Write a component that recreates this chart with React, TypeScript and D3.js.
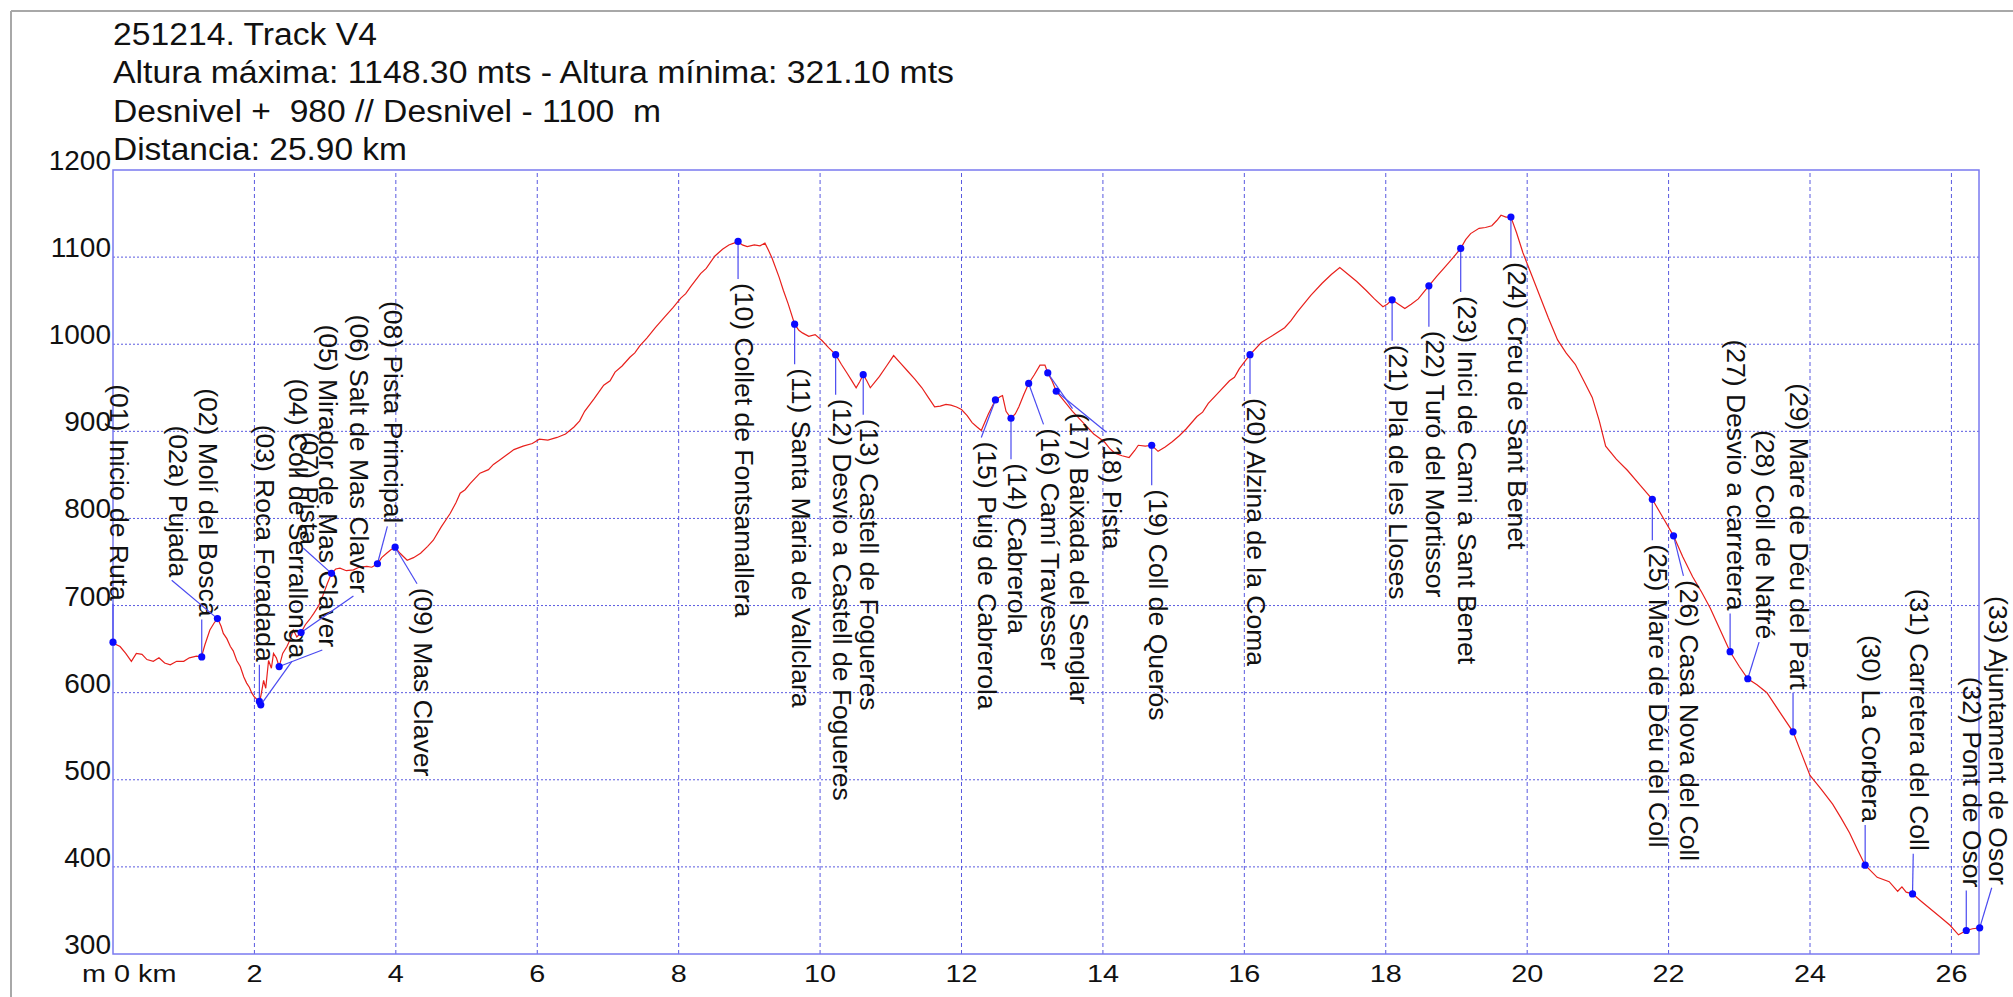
import React from "react"
import * as d3 from "d3"

const WIDTH = 2013
const HEIGHT = 997

const titleLines = [
  "251214. Track V4",
  "Altura máxima: 1148.30 mts - Altura mínima: 321.10 mts",
  "Desnivel +  980 // Desnivel - 1100  m",
  "Distancia: 25.90 km",
]
const titleWidths = [264, 841, 548, 294]

const yTicks = [300, 400, 500, 600, 700, 800, 900, 1000, 1100, 1200]
const xTicks = [2, 4, 6, 8, 10, 12, 14, 16, 18, 20, 22, 24, 26]

// elevation profile (km, m)
const profileKm = [
  0.0, 0.05, 0.1, 0.18, 0.26, 0.33, 0.41, 0.48, 0.57, 0.65, 0.73, 0.81, 0.9, 1.0, 1.08, 1.18, 1.25,
  1.3, 1.37, 1.43, 1.48, 1.53, 1.56, 1.61, 1.66, 1.7, 1.75, 1.8, 1.85, 1.89, 1.93, 1.96, 2.0, 2.04,
  2.07, 2.1, 2.13, 2.16, 2.2, 2.24, 2.27, 2.31, 2.35, 2.4, 2.46, 2.5, 2.55, 2.6, 2.66, 2.72, 2.78,
  2.84, 2.91, 2.98, 3.03, 3.09, 3.15, 3.21, 3.3, 3.4, 3.48, 3.59, 3.66, 3.74, 3.8, 3.87, 3.93, 3.99,
  4.06, 4.16, 4.25, 4.35, 4.45, 4.53, 4.64, 4.77, 4.85, 4.91, 4.98, 5.05, 5.12, 5.19, 5.31, 5.38,
  5.45, 5.57, 5.67, 5.8, 5.93, 6.03, 6.15, 6.28, 6.4, 6.52, 6.6, 6.67, 6.8, 6.94, 7.03, 7.1, 7.2,
  7.31, 7.38, 7.45, 7.55, 7.67, 7.8, 7.92, 8.03, 8.1, 8.17, 8.31, 8.39, 8.51, 8.62, 8.71, 8.78,
  8.84, 8.9, 8.97, 9.07, 9.15, 9.22, 9.27, 9.32, 9.42, 9.48, 9.55, 9.64, 9.7, 9.75, 9.84, 9.93,
  10.03, 10.12, 10.22, 10.3, 10.38, 10.45, 10.51, 10.56, 10.61, 10.66, 10.71, 10.78, 10.84, 10.94,
  11.04, 11.14, 11.24, 11.34, 11.44, 11.53, 11.62, 11.7, 11.78, 11.85, 11.93, 12.0, 12.08, 12.15,
  12.22, 12.28, 12.38, 12.48, 12.55, 12.58, 12.63, 12.7, 12.76, 12.81, 12.88, 12.95, 13.03, 13.11,
  13.18, 13.22, 13.28, 13.34, 13.45, 13.57, 13.72, 13.87, 14.02, 14.1, 14.17, 14.27, 14.37, 14.45,
  14.5, 14.6, 14.69, 14.78, 14.88, 14.98, 15.08, 15.18, 15.33, 15.41, 15.49, 15.64, 15.79, 15.86,
  15.93, 16.08, 16.24, 16.4, 16.57, 16.66, 16.75, 16.94, 17.1, 17.23, 17.35, 17.47, 17.59, 17.72,
  17.84, 17.96, 18.02, 18.09, 18.18, 18.27, 18.36, 18.46, 18.54, 18.61, 18.72, 18.83, 18.95, 19.06,
  19.13, 19.2, 19.32, 19.41, 19.5, 19.57, 19.63, 19.7, 19.77, 19.85, 19.94, 20.06, 20.18, 20.3,
  20.43, 20.55, 20.68, 20.8, 20.92, 21.02, 21.11, 21.26, 21.42, 21.6, 21.77, 21.92, 22.07, 22.2,
  22.34, 22.47, 22.59, 22.73, 22.87, 23.0, 23.12, 23.25, 23.39, 23.57, 23.76, 23.88, 24.0, 24.08,
  24.16, 24.32, 24.44, 24.56, 24.67, 24.78, 24.95, 25.12, 25.24, 25.3, 25.36, 25.45, 25.58, 25.73,
  25.85, 25.98, 26.1, 26.21, 26.3, 26.4,
]
const profileM = [
  658, 655, 653, 645, 636, 645, 644, 638, 636, 640, 634, 632, 636, 636, 640, 642, 641,
  655, 672, 680, 685, 676, 668, 662, 653, 648, 637, 630, 618, 611, 606, 600, 595, 592,
  588, 600, 614, 605, 637, 628, 645, 640, 630, 645, 653, 660, 672, 664, 669, 678, 684,
  691, 700, 714, 725, 737, 742, 743, 740, 741, 744, 745, 744, 748, 755, 760, 764, 767,
  760, 752, 755, 760, 768, 775, 790, 806, 818, 829, 833, 840, 846, 852, 856, 862,
  866, 873, 879, 883, 886, 891, 890, 893, 897, 905, 912, 923, 937, 953, 958, 968, 975,
  985, 990, 998, 1007, 1019, 1031, 1042, 1053, 1058, 1066, 1081, 1087, 1101, 1109, 1114, 1116,
  1118, 1114, 1112, 1114, 1113, 1116, 1108, 1099, 1077, 1062, 1046, 1023, 1016, 1013, 1009, 1011,
  1004, 996, 988, 977, 967, 958, 950, 957, 965, 958, 950, 957, 963, 975,
  987, 978, 969, 960, 950, 939, 928, 929, 931, 930, 928, 925, 918, 910,
  905, 901, 920, 936, 940, 941, 923, 915, 920, 928, 942, 955, 965, 976,
  976, 967, 958, 946, 935, 923, 910, 897, 888, 880, 875, 872, 870, 878,
  884, 883, 884, 877, 882, 888, 895, 903, 917, 922, 932, 945, 958, 962,
  972, 988, 1002, 1010, 1019, 1027, 1037, 1056, 1070, 1080, 1088, 1080, 1072, 1062,
  1052, 1043, 1046, 1051, 1046, 1041, 1046, 1052, 1060, 1067, 1078, 1088, 1099, 1110,
  1120, 1127, 1133, 1134, 1136, 1142, 1148, 1146, 1146, 1128, 1105, 1080, 1055, 1030,
  1005, 990, 977, 958, 939, 912, 883, 868, 855, 838, 822, 801, 780, 756,
  733, 715, 697, 672, 647, 630, 616, 609, 600, 578, 555, 530, 505, 497,
  489, 472, 456, 439, 420, 402, 388, 383, 372, 377, 371, 369, 360, 350,
  342, 333, 322, 327, 329, 330,
]

// waypoints: name, position on the track, and where its label is attached
const wpName = [
  "(01) Inicio de Ruta", "(02) Molí del Boscà", "(02a) Pujada", "(03) Roca Foradada",
  "(04) Coll de Serrallonga", "(05) Mirador de Mas Claver", "(06) Salt de Mas Claver",
  "(07) Pista", "(08) Pista Principal", "(09) Mas Claver", "(10) Collet de Fontsamallera",
  "(11) Santa Maria de Vallclara", "(12) Desvio a Castell de Fogueres", "(13) Castell de Fogueres",
  "(14) Cabrerola", "(15) Puig de Cabrerola", "(16) Camí Travesser", "(17) Baixada del Senglar",
  "(18) Pista", "(19) Coll de Querós", "(20) Alzina de la Coma", "(21) Pla de les Lloses",
  "(22) Turó del Mortissor", "(23) Inici de Cami a Sant Benet", "(24) Creu de Sant Benet",
  "(25) Mare de Déu del Coll", "(26) Casa Nova del Coll", "(27) Desvio a carretera",
  "(28) Coll de Nafré", "(29) Mare de Déu del Part", "(30) La Corbera", "(31) Carretera del Coll",
  "(32) Pont de Osor", "(33) Ajuntament de Osor",
]
const wpKm = [
  0, 1.255, 1.477, 2.07, 2.09, 2.35, 2.66, 3.09, 3.74, 3.99, 8.84, 9.64, 10.22, 10.61, 12.7, 12.48,
  12.95, 13.22, 13.34, 14.69, 16.08, 18.09, 18.61, 19.06, 19.77, 21.77, 22.07, 22.87, 23.12, 23.76,
  24.78, 25.45, 26.21, 26.4,
]
const wpM = [
  658, 641, 685, 590, 586, 630, 669, 737, 748, 767, 1118, 1023, 988, 965, 915, 936, 955, 967, 946,
  884, 988, 1051, 1067, 1110, 1146, 822, 780, 647, 616, 555, 402, 369, 327, 330,
]
const labelKm = [
  0, 1.255, 0.83, 2.07, 2.53, 2.96, 3.4, 2.69, 3.88, 4.3, 8.84, 9.64, 10.22, 10.61, 12.7, 12.28,
  13.16, 13.57, 14.05, 14.69, 16.08, 18.09, 18.61, 19.06, 19.77, 21.77, 22.21, 22.87, 23.28, 23.76,
  24.78, 25.46, 26.21, 26.57,
]
const labelM = [
  702, 684, 729, 632, 636, 649, 711, 766, 791, 725, 1075, 977, 942, 919, 868, 893, 908, 926, 899,
  838, 943, 1004, 1020, 1060, 1099, 775, 734, 691, 658, 600, 448, 415, 373, 376,
]
const labelAbove = [
  true, true, true, true, true, true, true, true, true, false, false, false, false, false, false,
  false, false, false, false, false, false, false, false, false, false, false, false, true, true,
  true, true, true, true, true,
]

const FONT = "'Liberation Sans', Arial, Helvetica, sans-serif"
const GRID = "#5a5ae0"
const FRAME = "#7a7af0"

export default function App() {
  const x = d3.scaleLinear().domain([0, 26.39]).range([113, 1979])
  const y = d3.scaleLinear().domain([300, 1200]).range([954, 170])

  const profile = profileKm.map((k, i) => [k, profileM[i]] as [number, number])
  const line = d3
    .line<[number, number]>()
    .x((d) => x(d[0]))
    .y((d) => y(d[1]))

  const [x0, x1] = x.range()
  const [y0, y1] = y.range()

  return (
    <svg
      width={WIDTH}
      height={HEIGHT}
      style={{ position: "absolute", left: 0, top: 0, background: "#fff" }}
      fontFamily={FONT}
    >
      <rect x={0} y={0} width={WIDTH} height={HEIGHT} fill="#fff" />
      {/* outer window frame */}
      <line x1={11} y1={11} x2={WIDTH} y2={11} stroke="#a8a8a8" strokeWidth={2} />
      <line x1={11} y1={11} x2={11} y2={HEIGHT} stroke="#a8a8a8" strokeWidth={2} />

      {titleLines.map((t, i) => (
        <text
          key={t}
          x={113}
          y={45 + i * 38.4}
          fontSize={31}
          fill="#111"
          textLength={titleWidths[i]}
          lengthAdjust="spacingAndGlyphs"
          style={{ whiteSpace: "pre" }}
        >
          {t}
        </text>
      ))}

      {/* grid */}
      {yTicks
        .filter((v) => v > 300 && v < 1200)
        .map((v) => (
          <line
            key={"gy" + v}
            x1={x0}
            x2={x1}
            y1={y(v)}
            y2={y(v)}
            stroke={GRID}
            strokeWidth={1}
            strokeDasharray="2,2"
          />
        ))}
      {xTicks
        .filter((v) => x(v) < x1 - 2)
        .map((v) => (
          <line
            key={"gx" + v}
            x1={x(v)}
            x2={x(v)}
            y1={y0}
            y2={y1}
            stroke={GRID}
            strokeWidth={1}
            strokeDasharray="4,3"
          />
        ))}

      <rect
        x={x0}
        y={y1}
        width={x1 - x0}
        height={y0 - y1}
        fill="none"
        stroke={FRAME}
        strokeWidth={1.5}
      />

      {/* tick labels */}
      {yTicks.map((v) => (
        <text key={"ty" + v} x={111} y={y(v)} fontSize={28} textAnchor="end" fill="#111">
          {v}
        </text>
      ))}
      <text transform={`translate(82,982) scale(1.2,1)`} fontSize={24} fill="#111">
        m 0 km
      </text>
      {xTicks.map((v) => (
        <text
          key={"tx" + v}
          transform={`translate(${x(v)},982) scale(1.2,1)`}
          fontSize={24}
          textAnchor="middle"
          fill="#111"
        >
          {v}
        </text>
      ))}

      {/* profile */}
      <path d={line(profile) ?? ""} fill="none" stroke="#e8201c" strokeWidth={1.2} />

      {/* waypoints */}
      {wpName.map((name, i) => {
        const px = x(wpKm[i])
        const py = y(wpM[i])
        const ax = x(labelKm[i])
        const ay = y(labelM[i])
        const above = labelAbove[i]
        return (
          <g key={name}>
            <line x1={px} y1={py} x2={ax} y2={ay} stroke="#4a4af0" strokeWidth={1.2} />
            <text
              transform={`translate(${ax - 3},${above ? ay - 3 : ay + 4}) rotate(90)`}
              fontSize={26.5}
              textAnchor={above ? "end" : "start"}
              fill="#111"
            >
              {name}
            </text>
            <circle cx={px} cy={py} r={3.6} fill="#0a0aff" />
          </g>
        )
      })}
    </svg>
  )
}
